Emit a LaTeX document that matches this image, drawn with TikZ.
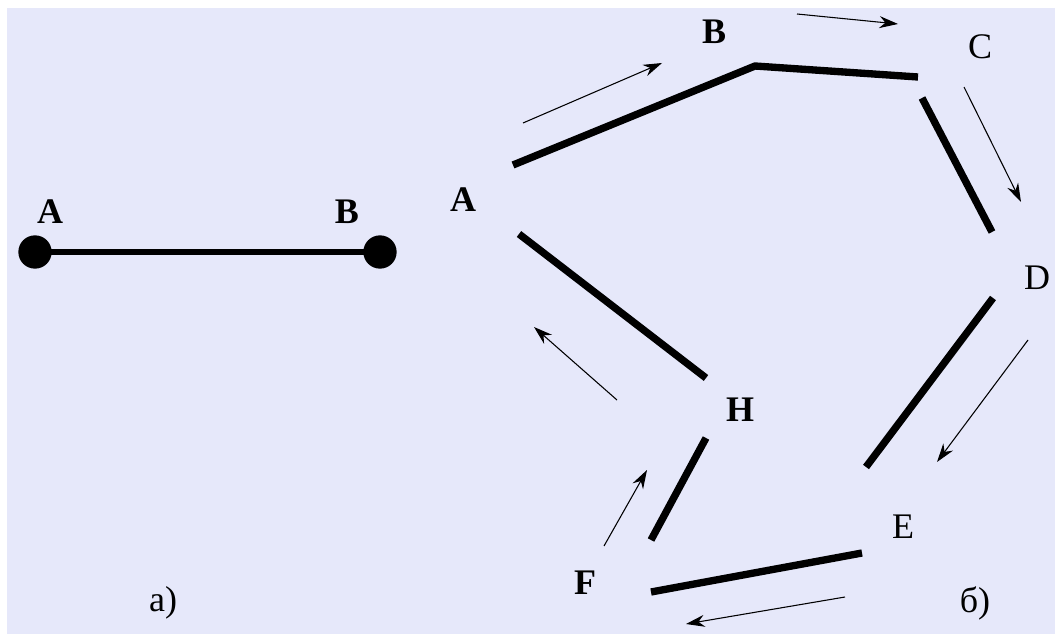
\documentclass[tikz,border=0pt]{standalone}
\usepackage{fontspec}
\setmainfont{Liberation Serif}
\usetikzlibrary{arrows.meta}
\definecolor{paper}{RGB}{230,232,250}
\begin{document}
\begin{tikzpicture}[x=0.75pt,y=-0.75pt,
  lbl/.style={font=\fontsize{27}{27}\selectfont, inner sep=0pt},
  lblb/.style={font=\fontsize{27}{27}\selectfont\bfseries, inner sep=0pt},
  rod/.style={line width=5.5pt},
  flow/.style={line width=0.8pt, -{Stealth[length=14pt,width=9pt]}},
  dot/.style={circle, fill=black, minimum size=25pt, inner sep=0pt},
]
\useasboundingbox (0,0) rectangle (1055,634);
\fill[white] (0,0) rectangle (1055,634);
\fill[paper] (7,8) rectangle (1055,634);

% (a) a single link between two joints
\node[dot] (pa) at (35,252) {};
\node[dot] (pb) at (380,252) {};
\draw[line width=5pt] (pa.center) -- (pb.center);
\node[lblb] (la) at (50,212) {A};
\node[lblb] (lb) at (347,212) {B};
\node[lbl] (capa) at (163,603) {а)};

% (b) a closed chain of links
\node[lblb] (nA) at (463,200) {A};
\node[lblb] (nB) at (714,32) {B};
\node[lbl] (nC) at (980,47) {C};
\node[lbl] (nD) at (1037,278) {D};
\node[lbl] (nE) at (903,527) {E};
\node[lblb] (nF) at (585,583) {F};
\node[lblb] (nH) at (740,410) {H};
\node[lbl] (capb) at (975,603) {б)};

% link end points
\coordinate (ab1) at (513,165);
\coordinate (ab2) at (755,66);
\coordinate (bc2) at (918,77);
\coordinate (cd1) at (922,98);
\coordinate (cd2) at (992,232);
\coordinate (de1) at (993,298);
\coordinate (de2) at (866,467);
\coordinate (ef1) at (862,553);
\coordinate (ef2) at (651,592);
\coordinate (fh1) at (651,540);
\coordinate (fh2) at (706,438);
\coordinate (ha1) at (706,378);
\coordinate (ha2) at (519,234);

\draw[rod] (ab1) -- (ab2) -- (bc2);
\draw[rod] (cd1) -- (cd2);
\draw[rod] (de1) -- (de2);
\draw[rod] (ef1) -- (ef2);
\draw[rod] (fh1) -- (fh2);
\draw[rod] (ha1) -- (ha2);

% direction of travel round the chain
\coordinate (f1s) at (523,123); \coordinate (f1e) at (662,63);
\coordinate (f2s) at (797,14);  \coordinate (f2e) at (898,24);
\coordinate (f3s) at (964,87);  \coordinate (f3e) at (1021,202);
\coordinate (f4s) at (1028,340); \coordinate (f4e) at (937,462);
\coordinate (f5s) at (845,597); \coordinate (f5e) at (686,624);
\coordinate (f6s) at (604,546); \coordinate (f6e) at (647,470);
\coordinate (f7s) at (617,400); \coordinate (f7e) at (534,327);
\foreach \i in {1,...,7} \draw[flow] (f\i s) -- (f\i e);
\end{tikzpicture}
\end{document}
